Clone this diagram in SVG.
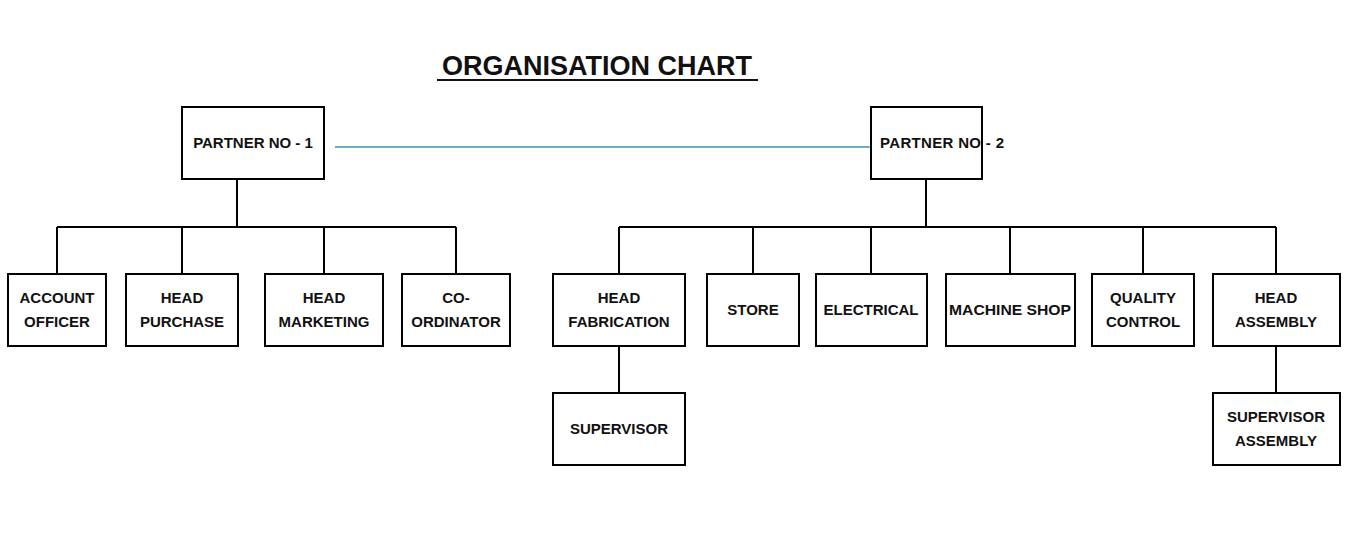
<svg xmlns="http://www.w3.org/2000/svg" width="1367" height="541" viewBox="0 0 1367 541">
<style>
.b{fill:#fff;stroke:#000;stroke-width:2}
.t{font-family:"Liberation Sans",Arial,sans-serif;font-weight:bold;font-size:15px;text-anchor:middle;fill:#111}
.c{stroke:#000;stroke-width:2;fill:none}
</style>
<rect width="1367" height="541" fill="#fff"/>
<text x="597" y="75" font-family="Liberation Sans,Arial,sans-serif" font-weight="bold" font-size="27" text-anchor="middle" fill="#111">ORGANISATION CHART</text>
<line x1="437" y1="80" x2="758" y2="80" stroke="#111" stroke-width="2"/>
<g id="connectors">
<line x1="335" y1="147" x2="875" y2="147" stroke="#3a8fb0" stroke-width="1.5"/>
<path class="c" d="M237 179V227M57 227H456M57 227V274M182 227V274M324 227V274M456 227V274"/>
<path class="c" d="M926 179V227M619 227H1276M619 227V274M753 227V274M871 227V274M1010 227V274M1143 227V274M1276 227V274M619 346V393M1276 346V393"/>
</g>
<g id="p1"><rect class="b" x="182" y="107" width="142" height="72"/><text class="t" x="253" y="148">PARTNER  NO - 1</text></g>
<g id="p2"><rect class="b" x="871" y="107" width="111" height="72"/><text class="t" x="942" y="148" textLength="124">PARTNER NO - 2</text></g>
<g id="account"><rect class="b" x="8" y="274" width="98" height="72"/><text class="t" x="57" y="303">ACCOUNT</text><text class="t" x="57" y="327">OFFICER</text></g>
<g id="purchase"><rect class="b" x="126" y="274" width="112" height="72"/><text class="t" x="182" y="303">HEAD</text><text class="t" x="182" y="327">PURCHASE</text></g>
<g id="marketing"><rect class="b" x="265" y="274" width="118" height="72"/><text class="t" x="324" y="303">HEAD</text><text class="t" x="324" y="327">MARKETING</text></g>
<g id="coord"><rect class="b" x="402" y="274" width="108" height="72"/><text class="t" x="456" y="303">CO-</text><text class="t" x="456" y="327">ORDINATOR</text></g>
<g id="fab"><rect class="b" x="553" y="274" width="132" height="72"/><text class="t" x="619" y="303">HEAD</text><text class="t" x="619" y="327">FABRICATION</text></g>
<g id="store"><rect class="b" x="707" y="274" width="92" height="72"/><text class="t" x="753" y="315">STORE</text></g>
<g id="electrical"><rect class="b" x="816" y="274" width="111" height="72"/><text class="t" x="871" y="315">ELECTRICAL</text></g>
<g id="machine"><rect class="b" x="946" y="274" width="129" height="72"/><text class="t" x="1010" y="315" textLength="122" lengthAdjust="spacingAndGlyphs">MACHINE SHOP</text></g>
<g id="quality"><rect class="b" x="1092" y="274" width="102" height="72"/><text class="t" x="1143" y="303">QUALITY</text><text class="t" x="1143" y="327">CONTROL</text></g>
<g id="assembly"><rect class="b" x="1213" y="274" width="127" height="72"/><text class="t" x="1276" y="303">HEAD</text><text class="t" x="1276" y="327">ASSEMBLY</text></g>
<g id="supervisor"><rect class="b" x="553" y="393" width="132" height="72"/><text class="t" x="619" y="434">SUPERVISOR</text></g>
<g id="supasm"><rect class="b" x="1213" y="393" width="127" height="72"/><text class="t" x="1276" y="422">SUPERVISOR</text><text class="t" x="1276" y="446">ASSEMBLY</text></g>
</svg>
